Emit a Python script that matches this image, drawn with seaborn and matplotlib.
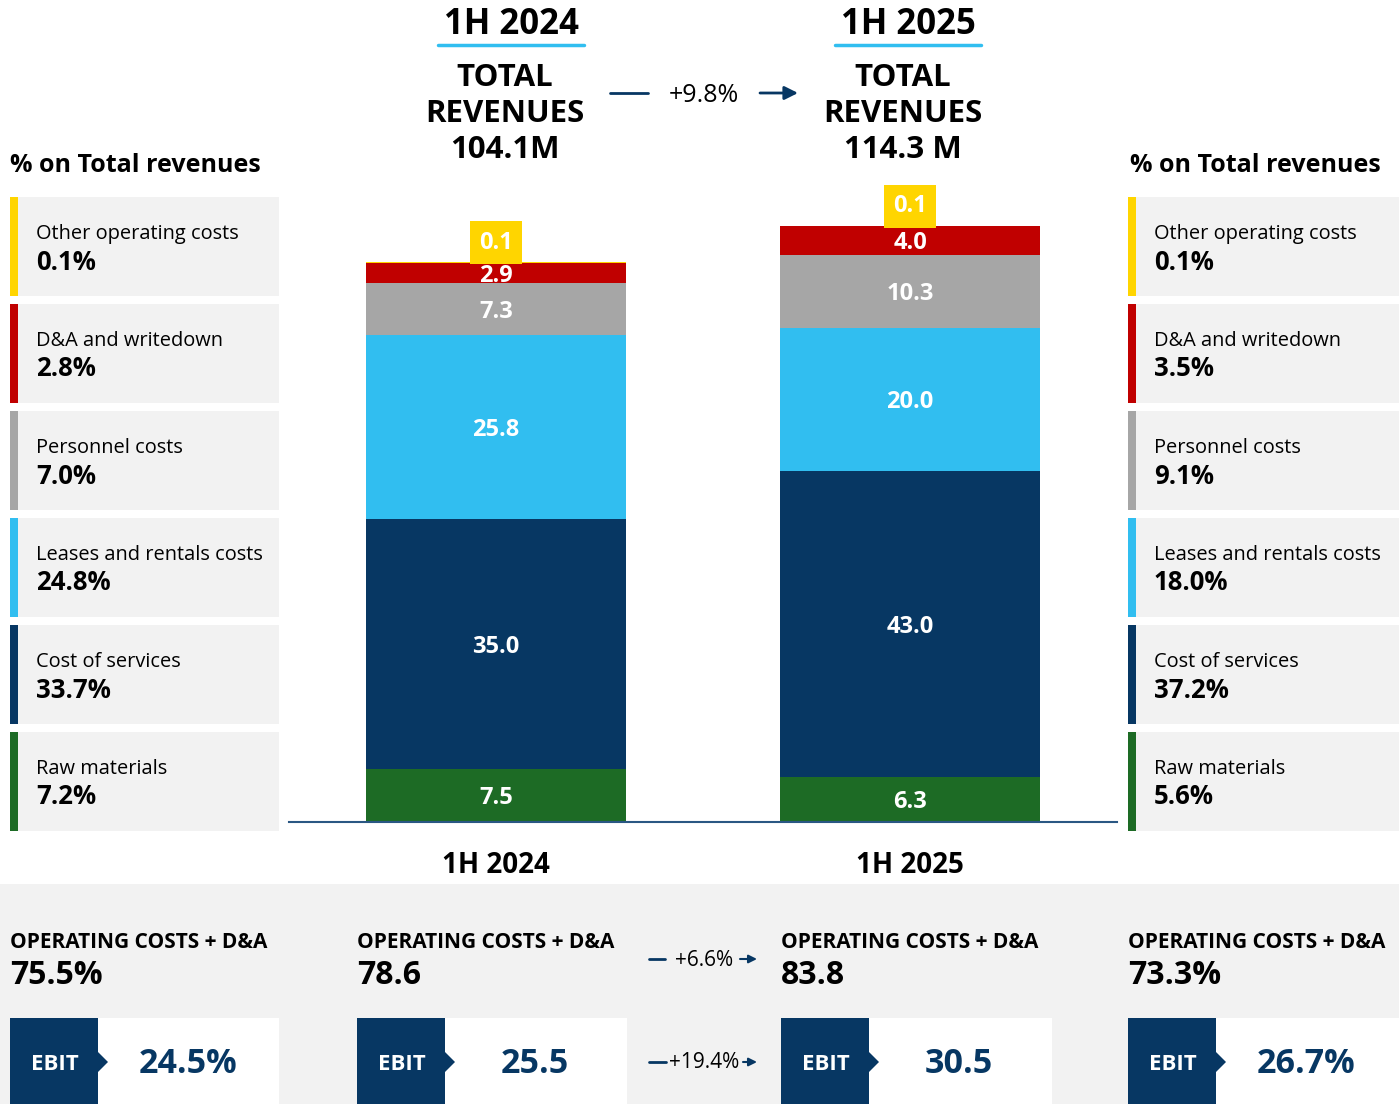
import matplotlib
matplotlib.use("Agg")
import matplotlib.pyplot as plt
from matplotlib.patches import Rectangle, Polygon
import pandas as pd
import seaborn as sns

# %% data
periods = ["1H 2024", "1H 2025"]
categories = ["Other operating costs", "D&A and writedown", "Personnel costs",
              "Leases and rentals costs", "Cost of services", "Raw materials"]
colors = ["#FFD500", "#C00000", "#A6A6A6", "#31BEF0", "#073763", "#1D6B25"]
values_2024 = [0.1, 2.9, 7.3, 25.8, 35.0, 7.5]
values_2025 = [0.1, 4.0, 10.3, 20.0, 43.0, 6.3]
pct_2024 = [0.1, 2.8, 7.0, 24.8, 33.7, 7.2]
pct_2025 = [0.1, 3.5, 9.1, 18.0, 37.2, 5.6]
revenues = ["104.1M", "114.3 M"]
rev_growth = "+9.8%"
opex_labels = ["75.5%", "78.6", "83.8", "73.3%"]
opex_growth = "+6.6%"
ebit_labels = ["24.5%", "25.5", "30.5", "26.7%"]
ebit_growth = "+19.4%"

NAVY = "#073763"
CARD = "#F2F2F2"

sns.set_style("white")
plt.rcParams["font.family"] = ["Open Sans", "DejaVu Sans"]
plt.rcParams["text.color"] = "black"
plt.rcParams["xtick.color"] = "black"

# stacked table, bottom segment first
rows = []
for p, vals in zip(periods, [values_2024, values_2025]):
    bottom = 0.0
    for cat, v in zip(categories[::-1], vals[::-1]):
        rows.append(dict(period=p, category=cat, value=v, bottom=bottom, top=bottom + v))
        bottom += v
df = pd.DataFrame(rows)

fig = plt.figure(figsize=(13.99, 11.04), dpi=100)

# background layer in pixel coordinates
bg = fig.add_axes([0, 0, 1, 1], zorder=0)
bg.set_xlim(0, 1399)
bg.set_ylim(1104, 0)
bg.axis("off")

# %% bars
px_per_unit = 560 / 78.6
ax = fig.add_axes([289 / 1399, (1104 - 822) / 1104, 828 / 1399, (822 - 180) / 1104], zorder=1)
ax.patch.set_visible(False)
for cat, col in zip(categories, colors):
    sns.barplot(data=df[df.category == cat], x="period", y="top", order=periods,
                color=col, saturation=1, width=0.628, errorbar=None, ax=ax, linewidth=0)
ax.set_xlim(-0.5, 1.5)
ax.set_ylim(0, (822 - 180) / px_per_unit)
ax.set_yticks([])
ax.set_xlabel("")
ax.set_ylabel("")
for s in ["top", "left", "right"]:
    ax.spines[s].set_visible(False)
ax.spines["bottom"].set_color("#2A5783")
ax.spines["bottom"].set_linewidth(1.5)
ax.tick_params(axis="x", length=0, pad=21)
for lab in ax.get_xticklabels():
    lab.set_fontsize(20)
    lab.set_fontweight("bold")

for _, r in df.iterrows():
    xi = periods.index(r.period)
    if r.category == "Other operating costs":
        ax.annotate(f"{r.value:.1f}", (xi, r.top), xytext=(0, 14), textcoords="offset points",
                    ha="center", va="center", fontsize=17, fontweight="bold", color="white",
                    bbox=dict(boxstyle="square,pad=0.4", fc=colors[0], ec="none"))
    else:
        ax.annotate(f"{r.value:.1f}", (xi, r.bottom + r.value / 2), xytext=(0, -2),
                    textcoords="offset points", ha="center", va="center",
                    fontsize=17, fontweight="bold", color="white")

# %% header
for cx_t, cx_r, p, rev in zip([511, 908], [505, 903], periods, revenues):
    bg.text(cx_t, 25, p, ha="center", va="center", fontsize=25, fontweight="bold")
    bg.plot([cx_t - 73, cx_t + 73], [45, 45], color="#31BEF0", lw=2.5)
    bg.text(cx_r, 114, f"TOTAL\nREVENUES\n{rev}", ha="center", va="center",
            fontsize=22.5, fontweight="bold", linespacing=1.28)
bg.plot([610, 648], [93, 93], color=NAVY, lw=2)
bg.text(704, 95, rev_growth, ha="center", va="center", fontsize=18)
bg.annotate("", xy=(798, 93), xytext=(760, 93),
            arrowprops=dict(arrowstyle="-|>", color=NAVY, lw=2, mutation_scale=20, shrinkA=0, shrinkB=0))

# %% side cards
for sx in [10, 1130]:
    bg.text(sx, 165, "% on Total revenues", ha="left", va="center", fontsize=18, fontweight="bold")
for sx, sw, pcts in [(10, 269, pct_2024), (1128, 271, pct_2025)]:
    for i, (cat, col, pct) in enumerate(zip(categories, colors, pcts)):
        y0 = 197 + i * 107
        bg.add_patch(Rectangle((sx, y0), sw, 99, fc=CARD, ec="none"))
        bg.add_patch(Rectangle((sx, y0), 8, 99, fc=col, ec="none"))
        bg.text(sx + 26, y0 + 37, cat, ha="left", va="center", fontsize=14.4)
        bg.text(sx + 26, y0 + 65, f"{pct:.1f}%", ha="left", va="center", fontsize=18.5, fontweight="bold")

# %% bottom panel
bg.add_patch(Rectangle((0, 884), 1399, 220, fc=CARD, ec="none"))
col_x = [10, 357, 781, 1128]
col_w = [269, 270, 271, 272]
for x0, w, op, eb in zip(col_x, col_w, opex_labels, ebit_labels):
    bg.text(x0, 942, "OPERATING COSTS + D&A", ha="left", va="center", fontsize=15, fontweight="bold")
    bg.text(x0, 975, op, ha="left", va="center", fontsize=23, fontweight="bold")
    bg.add_patch(Rectangle((x0, 1018), w, 86, fc="white", ec="none"))
    bg.add_patch(Rectangle((x0, 1018), 88, 86, fc=NAVY, ec="none"))
    bg.add_patch(Polygon([(x0 + 88, 1052), (x0 + 98, 1062), (x0 + 88, 1072)], closed=True, fc=NAVY, ec="none"))
    bg.text(x0 + 45, 1064, "EBIT", ha="center", va="center", fontsize=16, fontweight="bold", color="white")
    bg.text(x0 + 178, 1064, eb, ha="center", va="center", fontsize=24.5, fontweight="bold", color=NAVY)

for y, txt, x_line, x_txt, x_arr in [(959, opex_growth, (649, 665), 704, (740, 757)),
                                     (1062, ebit_growth, (649, 666), 704, (743, 757))]:
    bg.plot(list(x_line), [y, y], color=NAVY, lw=2)
    bg.text(x_txt, y + 1, txt, ha="center", va="center", fontsize=15)
    bg.annotate("", xy=(x_arr[1], y), xytext=(x_arr[0], y),
                arrowprops=dict(arrowstyle="-|>", color=NAVY, lw=1.5, mutation_scale=12, shrinkA=0, shrinkB=0))

fig.savefig("out.png", dpi=100)
